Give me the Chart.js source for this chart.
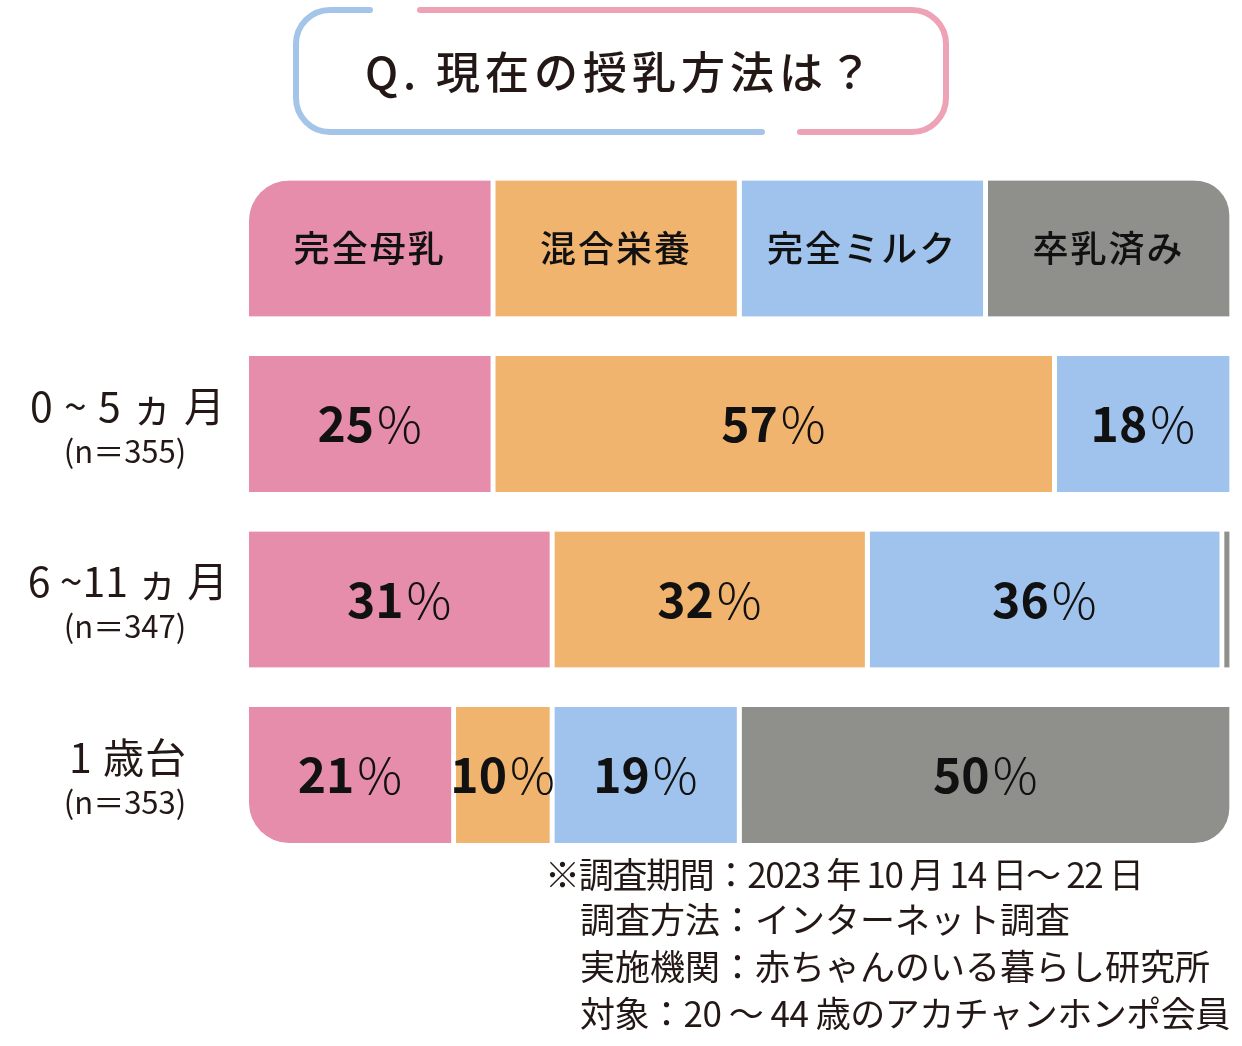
<!DOCTYPE html>
<html>
<head>
<meta charset="utf-8">
<script src="https://cdn.jsdelivr.net/npm/chart.js@4"></script>
<style>
  html, body { margin: 0; padding: 0; background: #ffffff; }
  #c { display: block; }
</style>
</head>
<body>
<canvas id="c" width="1242" height="1046"></canvas>
<script>
// ---- data ----
const titleText = 'Q. 現在の授乳方法は？';
const seriesNames = ['完全母乳', '混合栄養', '完全ミルク', '卒乳済み'];
const rowLabels = ['0 ~ 5 ヵ 月', '6 ~11 ヵ 月', '1 歳台'];
const sampleSizes = ['(n＝355)', '(n＝347)', '(n＝353)'];
const breastMilk = [25, 31, 21];
const mixedFeeding = [57, 32, 10];
const formulaOnly = [18, 36, 19];
const weaned = [0, 1, 50];
const headerShare = [25, 25, 25, 25]; // legend row: equal-width boxes
const footnotes = [
  '※調査期間：2023 年 10 月 14 日～ 22 日',
  '調査方法：インターネット調査',
  '実施機関：赤ちゃんのいる暮らし研究所',
  '対象：20 ～ 44 歳のアカチャンホンポ会員'
];

// ---- style ----
const colors = ['#e68dab', '#f0b46f', '#9fc3ec', '#8f8f8c'];
const FONT = '"Noto Sans CJK JP", "Noto Sans", sans-serif';
const TEXT = '#231815';
const seriesValues = [breastMilk, mixedFeeding, formulaOnly, weaned];
const categories = ['header'].concat(rowLabels);

const datasets = seriesNames.map((name, d) => ({
  label: name,
  data: [headerShare[d]].concat(seriesValues[d]),
  backgroundColor: colors[d],
  borderColor: '#ffffff',
  borderWidth: { left: 0, top: 0, bottom: 0, right: 5 },
  borderSkipped: false,
  barThickness: 136,
  borderRadius: (ctx) => {
    const i = ctx.dataIndex, ds = ctx.datasetIndex;
    const r = { topLeft: 0, topRight: 0, bottomLeft: 0, bottomRight: 0 };
    const lastRow = categories.length - 1, lastDs = seriesNames.length - 1;
    if (i === 0 && ds === 0) r.topLeft = 40;
    if (i === 0 && ds === lastDs) r.topRight = 40;
    if (i === lastRow && ds === 0) r.bottomLeft = 40;
    if (i === lastRow && ds === lastDs) r.bottomRight = 40;
    return r;
  }
}));

const decorPlugin = {
  id: 'decor',
  beforeDraw(chart) {
    const ctx = chart.ctx;
    ctx.save();
    // title box
    const L = 296, R = 946, T = 10, B = 132, r = 34;
    ctx.lineWidth = 6;
    ctx.lineCap = 'round';
    ctx.strokeStyle = '#a5c5e8';
    ctx.beginPath();
    ctx.moveTo(370, T);
    ctx.lineTo(L + r, T);
    ctx.arcTo(L, T, L, T + r, r);
    ctx.lineTo(L, B - r);
    ctx.arcTo(L, B, L + r, B, r);
    ctx.lineTo(762, B);
    ctx.stroke();
    ctx.strokeStyle = '#eea2b6';
    ctx.beginPath();
    ctx.moveTo(420, T);
    ctx.lineTo(R - r, T);
    ctx.arcTo(R, T, R, T + r, r);
    ctx.lineTo(R, B - r);
    ctx.arcTo(R, B, R - r, B, r);
    ctx.lineTo(800, B);
    ctx.stroke();
    // title text
    ctx.fillStyle = TEXT;
    ctx.font = '500 44px ' + FONT;
    ctx.textAlign = 'center';
    ctx.textBaseline = 'middle';
    ctx.letterSpacing = '5px';
    ctx.fillText(titleText, 621, 72);
    ctx.letterSpacing = '0px';
    // footnotes
    ctx.font = '35px ' + FONT;
    ctx.textAlign = 'left';
    const fy = [875, 920, 967, 1014];
    const fs = ['-1.3px', '0px', '0px', '-0.5px'];
    footnotes.forEach((t, k) => {
      ctx.letterSpacing = fs[k];
      ctx.fillText(t, k === 0 ? 545 : 580, fy[k]);
    });
    ctx.letterSpacing = '0px';
    ctx.restore();
  },
  afterDatasetsDraw(chart) {
    const ctx = chart.ctx;
    const yScale = chart.scales.y;
    ctx.save();
    ctx.fillStyle = TEXT;
    ctx.textBaseline = 'middle';
    // row labels
    rowLabels.forEach((lab, k) => {
      const cy = yScale.getPixelForValue(k + 1);
      ctx.textAlign = 'center';
      ctx.font = '41px ' + FONT;
      ctx.letterSpacing = k === 1 ? '0px' : '1px';
      ctx.fillText(lab, 128, cy - 18);
      ctx.letterSpacing = '0px';
      ctx.font = '31px ' + FONT;
      ctx.fillText(sampleSizes[k], 125, cy + 27);
    });
    // segment labels
    chart.data.datasets.forEach((ds, d) => {
      const meta = chart.getDatasetMeta(d);
      meta.data.forEach((el, i) => {
        const v = ds.data[i];
        const cx = (el.base + el.x - 5) / 2;
        const cy = el.y;
        if (i === 0) {
          ctx.textAlign = 'center';
          ctx.font = '500 36px ' + FONT;
          ctx.letterSpacing = '2px';
          ctx.fillStyle = '#111111';
          ctx.fillText(ds.label, cx, cy);
          ctx.letterSpacing = '0px';
          return;
        }
        if (v < 5) return;
        const num = String(v);
        ctx.fillStyle = '#111111';
        ctx.font = 'bold 48px ' + FONT;
        const wn = ctx.measureText(num).width;
        ctx.font = '300 50px ' + FONT;
        const wp = ctx.measureText('%').width;
        const gap = 3;
        const start = cx - (wn + gap + wp) / 2;
        ctx.textAlign = 'left';
        ctx.font = 'bold 48px ' + FONT;
        ctx.fillText(num, start, cy);
        ctx.font = '300 50px ' + FONT;
        ctx.fillText('%', start + wn + gap, cy);
      });
    });
    ctx.restore();
  }
};

new Chart(document.getElementById('c'), {
  type: 'bar',
  data: { labels: categories, datasets: datasets },
  options: {
    indexAxis: 'y',
    responsive: false,
    devicePixelRatio: 1,
    animation: false,
    layout: { padding: { left: 249, right: 8, top: 160.75, bottom: 183.25 } },
    scales: {
      x: { stacked: true, min: 0, max: 100, display: false },
      y: { stacked: true, display: false }
    },
    plugins: { legend: { display: false }, tooltip: { enabled: false } }
  },
  plugins: [decorPlugin]
});
</script>
</body>
</html>
